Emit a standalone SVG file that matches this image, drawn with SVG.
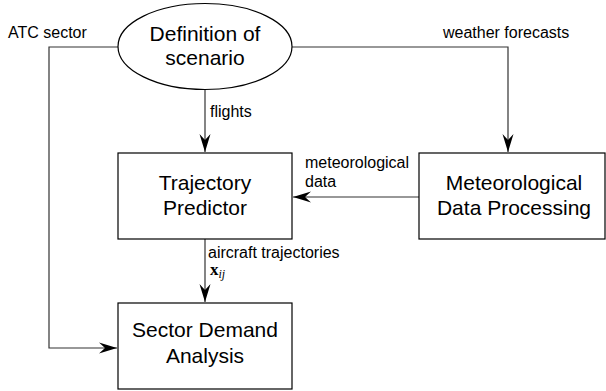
<svg xmlns="http://www.w3.org/2000/svg" width="606" height="391" viewBox="0 0 606 391">
  <style>
    .node { fill: #ffffff; stroke: #000000; stroke-width: 1.2; }
    .edge { fill: none; stroke: #333333; stroke-width: 1.2; }
    .ntext { font-family: "Liberation Sans", Arial, sans-serif; font-size: 21px; fill: #000000; text-anchor: middle; }
    .ltext { font-family: "Liberation Sans", Arial, sans-serif; font-size: 16px; fill: #000000; }
    .math { font-family: "Liberation Serif", "DejaVu Serif", serif; fill: #000000; }
  </style>
  <defs>
    <marker id="arrow" markerUnits="userSpaceOnUse" markerWidth="20" markerHeight="14" viewBox="-19 -7 20 14" refX="0" refY="0" orient="auto">
      <path d="M0,0 L-18,-5.5 L-12,0 L-18,5.5 Z" fill="#000000"/>
    </marker>
  </defs>

  <!-- connectors -->
  <g id="connectors">
    <path class="edge" d="M118,47 H49 V348 H117" marker-end="url(#arrow)"/>
    <path class="edge" d="M292,47 H508 V152" marker-end="url(#arrow)"/>
    <path class="edge" d="M205,90 V152" marker-end="url(#arrow)"/>
    <path class="edge" d="M419,197 H293" marker-end="url(#arrow)"/>
    <path class="edge" d="M205,239 V302" marker-end="url(#arrow)"/>
    <text class="ltext" x="8" y="38">ATC sector</text>
    <text class="ltext" x="443" y="38">weather forecasts</text>
    <text class="ltext" x="210" y="117">flights</text>
    <text class="ltext" x="305" y="168">meteorological</text>
    <text class="ltext" x="305" y="187">data</text>
    <text class="ltext" x="208" y="258">aircraft trajectories</text>
    <text class="math" x="210" y="275" font-size="17" font-weight="bold">x<tspan font-size="12" font-weight="normal" font-style="italic" dy="3">ij</tspan></text>
  </g>

  <g id="scenario">
    <ellipse class="node" cx="205" cy="46.5" rx="87" ry="43"/>
    <text class="ntext" x="205" y="41">Definition of</text>
    <text class="ntext" x="205" y="65">scenario</text>
  </g>

  <g id="trajectory-predictor">
    <rect class="node" x="118" y="153" width="174" height="86"/>
    <text class="ntext" x="205" y="190">Trajectory</text>
    <text class="ntext" x="205" y="215">Predictor</text>
  </g>

  <g id="met-processing">
    <rect class="node" x="419" y="153" width="186" height="86"/>
    <text class="ntext" x="514" y="190">Meteorological</text>
    <text class="ntext" x="514" y="215">Data Processing</text>
  </g>

  <g id="sector-demand">
    <rect class="node" x="118" y="303" width="174" height="86"/>
    <text class="ntext" x="205" y="337">Sector Demand</text>
    <text class="ntext" x="205" y="363">Analysis</text>
  </g>
</svg>
